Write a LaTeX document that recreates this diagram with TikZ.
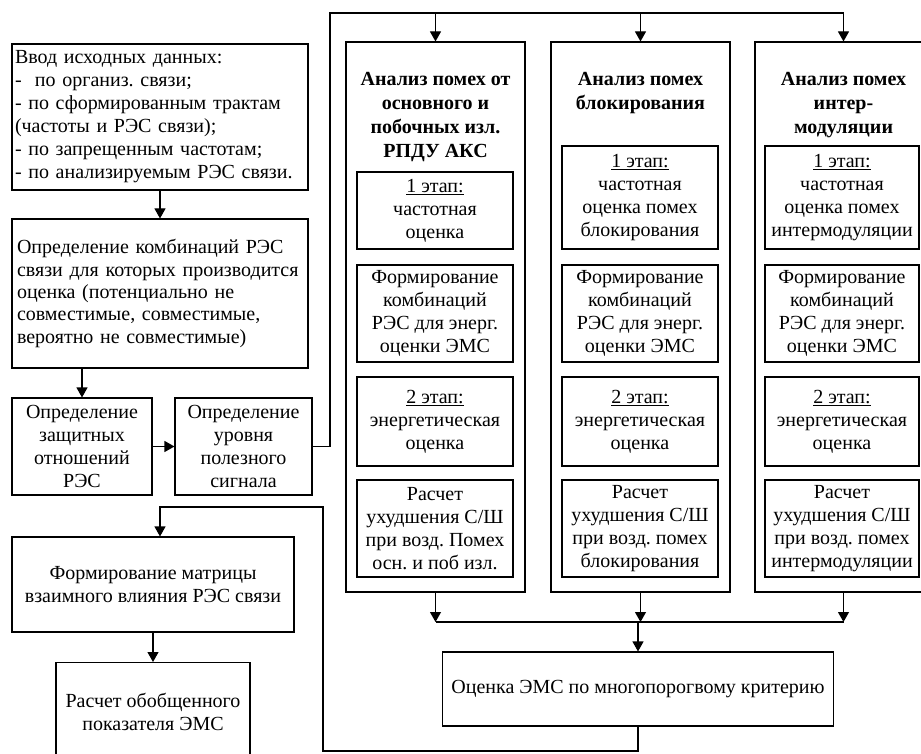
\documentclass[tikz,border=0pt]{standalone}
\usepackage{fontspec}
\setmainfont{Liberation Serif}
\usetikzlibrary{arrows.meta}
\frenchspacing
\begin{document}
\begin{tikzpicture}[x=1pt,y=-1pt,
  box/.style={draw, line width=1.1pt, inner sep=0pt, align=center, font=\fontsize{20}{23}\selectfont},
  ttl/.style={inner sep=0pt, align=center, anchor=north, font=\fontsize{20}{24}\selectfont\bfseries},
  arr/.style={-{Triangle[length=10pt,width=11pt]}},
  ln/.style={line width=1.1pt}]
\useasboundingbox (0,0) rectangle (921,754);

% left part
\node[box, minimum width=296, minimum height=146, text width=290, align=left] (A) at (160,117)
 {Ввод исходных данных:\\-~~по организ. связи;\\- по сформированным трактам\\(частоты и РЭС связи);\\- по запрещенным частотам;\\- по анализируемым РЭС связи.};
\node[box, minimum width=296, minimum height=149, text width=286, align=left, font=\fontsize{20}{22.3}\selectfont] (B) at (160,293.5)
 {Определение комбинаций РЭС\\связи для которых производится\\оценка (потенциально не\\совместимые, совместимые,\\вероятно не совместимые)};
\node[box, minimum width=140, minimum height=97] (C) at (82,446.5)
 {Определение\\защитных\\отношений\\РЭС};
\node[box, minimum width=137, minimum height=97] (D) at (243.5,446.5)
 {Определение\\уровня\\полезного\\сигнала};
\node[box, minimum width=282, minimum height=95] (F) at (153,584.5)
 {Формирование матрицы\\взаимного влияния РЭС связи};
\node[box, minimum width=194, minimum height=98, anchor=north] (G) at (153,662)
 {Расчет обобщенного\\показателя ЭМС};

% columns
\node[box, minimum width=179, minimum height=550] (c1) at (435.5,317) {};
\node[box, minimum width=179, minimum height=550] (c2) at (640.5,317) {};
\node[box, minimum width=177, minimum height=550] (c3) at (843.5,317) {};

\node[ttl] (t1) at (435.5,72.5) {Анализ помех от\\основного и\\побочных изл.\\РПДУ АКС};
\node[ttl] (t2) at (640.5,72.5) {Анализ помех\\блокирования};
\node[ttl] (t3) at (843.5,72.5) {Анализ помех\\интер-\\модуляции};

% column 1 inner boxes
\node[box, minimum width=156, minimum height=77] (a1) at (435,210.5) {\underline{1 этап:}\\частотная\\оценка};
\node[box, minimum width=156, minimum height=97] (a2) at (435,313.5) {Формирование\\комбинаций\\РЭС для энерг.\\оценки ЭМС};
\node[box, minimum width=156, minimum height=89] (a3) at (435,421.5) {\underline{2 этап:}\\энергетическая\\оценка};
\node[box, minimum width=156, minimum height=97] (a4) at (435,528.5) {Расчет\\ухудшения С/Ш\\при возд. Помех\\осн. и поб изл.};

% column 2 inner boxes
\node[box, minimum width=156, minimum height=103] (b1) at (640,197.5) {\underline{1 этап:}\\частотная\\оценка помех\\блокирования};
\node[box, minimum width=156, minimum height=97] (b2) at (640,313.5) {Формирование\\комбинаций\\РЭС для энерг.\\оценки ЭМС};
\node[box, minimum width=156, minimum height=89] (b3) at (640,421.5) {\underline{2 этап:}\\энергетическая\\оценка};
\node[box, minimum width=156, minimum height=97] (b4) at (640,528.5) {Расчет\\ухудшения С/Ш\\при возд. помех\\блокирования};

% column 3 inner boxes
\node[box, minimum width=154, minimum height=103] (d1) at (842,197.5) {\underline{1 этап:}\\частотная\\оценка помех\\интермодуляции};
\node[box, minimum width=154, minimum height=97] (d2) at (842,313.5) {Формирование\\комбинаций\\РЭС для энерг.\\оценки ЭМС};
\node[box, minimum width=154, minimum height=89] (d3) at (842,421.5) {\underline{2 этап:}\\энергетическая\\оценка};
\node[box, minimum width=154, minimum height=97] (d4) at (842,528.5) {Расчет\\ухудшения С/Ш\\при возд. помех\\интермодуляции};

% result box
\node[box, minimum width=391, minimum height=74] (E) at (638,689) {Оценка ЭМС по многопорогвому критерию};

% connectors
\coordinate (bus) at (330,13);
\coordinate (m) at (638,622);
\coordinate (l1) at (323,751);
\coordinate (l2) at (323,507);

\draw[ln,arr] (A.south) -- (B.north);
\draw[ln,arr] (B.south -| C.north) -- (C.north);
\draw[ln,arr] (C.east) -- (D.west);
\draw[ln] (D.east) -| (bus) -- (c3.north |- bus);
\draw[ln,arr] (c1.north |- bus) -- (c1.north);
\draw[ln,arr] (c2.north |- bus) -- (c2.north);
\draw[ln,arr] (c3.north |- bus) -- (c3.north);

\draw[ln,arr] (c1.south) -- (c1.south |- m);
\draw[ln,arr] (c2.south) -- (c2.south |- m);
\draw[ln,arr] (c3.south) -- (c3.south |- m);
\draw[ln] (c1.south |- m) -- (c3.south |- m);
\draw[ln,arr] (m) -- (E.north);

\draw[ln,arr] (E.south) |- (l1) -- (l2) -| ([xshift=7pt]F.north);
\draw[ln,arr] (F.south) -- (G.north);
\end{tikzpicture}
\end{document}
